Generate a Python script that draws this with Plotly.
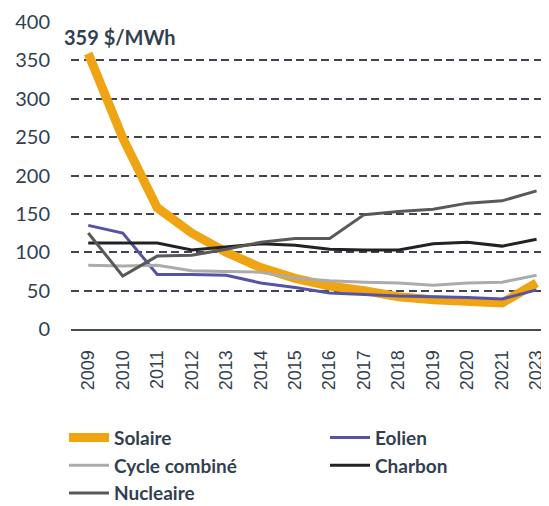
import plotly.graph_objects as go

years = ["2009", "2010", "2011", "2012", "2013", "2014", "2015", "2016",
         "2017", "2018", "2019", "2020", "2021", "2023"]
solaire = [359, 249, 158, 125, 100, 80, 66, 56, 50, 42, 38, 36, 34, 60]
eolien = [135, 125, 71, 71, 70, 60, 54, 47, 45, 43, 42, 41, 39, 51]
cycle_combine = [83, 82, 83, 76, 75, 74, 66, 63, 61, 60, 57, 60, 61, 70]
charbon = [112, 112, 112, 103, 107, 111, 109, 104, 103, 103, 111, 113, 108, 117]
nucleaire = [125, 69, 95, 96, 104, 113, 118, 118, 149, 153, 156, 164, 167, 180]
y_ticks = [0, 50, 100, 150, 200, 250, 300, 350, 400]

TEXT = "#333F50"
fig = go.Figure()
series = [
    ("Solaire", solaire, "#EFA414", 9),
    ("Eolien", eolien, "#5753A4", 3),
    ("Cycle combiné", cycle_combine, "#ABABAB", 3),
    ("Charbon", charbon, "#222222", 3),
    ("Nucleaire", nucleaire, "#595959", 3),
]
for name, vals, col, w in series:
    fig.add_trace(go.Scatter(x=years, y=vals, name=name, mode="lines",
                             line=dict(color=col, width=w)))

fig.add_annotation(x=0, y=380, xref="x", yref="y", text="<b>359 $/MWh</b>",
                   showarrow=False, xanchor="left", xshift=-26,
                   font=dict(family="Lato, Open Sans, sans-serif", size=20, color=TEXT))

# page body keeps an 8px margin, so the figure is 8px smaller on each axis
fig.update_layout(
    width=541, height=498,
    margin=dict(l=63, r=0, t=14, b=177, autoexpand=False),
    plot_bgcolor="white", paper_bgcolor="white",
    showlegend=True,
    legend=dict(orientation="h", xref="paper", yref="paper",
                x=-0.0146, y=-0.292, xanchor="left", yanchor="top",
                entrywidth=206, entrywidthmode="pixels",
                font=dict(family="Lato, Open Sans, sans-serif", size=19, color=TEXT,
                          weight="bold"),
                itemwidth=40),
    xaxis=dict(type="category", range=[-0.5, 13.36], tickangle=-90, automargin=False,
               showgrid=False, showline=True, linecolor="#444C5C", linewidth=2,
               ticks="", ticklabelstandoff=12,
               tickfont=dict(family="Liberation Sans, Arial, sans-serif", size=18, color=TEXT)),
    yaxis=dict(range=[0, 400], tickvals=y_ticks, showgrid=True, automargin=False,
               gridcolor="#3D4452", gridwidth=2, griddash="8px,4.5px",
               zeroline=False, showline=False, ticks="", ticklabelstandoff=20,
               tickfont=dict(family="Lato, Open Sans, sans-serif", size=20, color=TEXT)),
)
fig.write_html("out.html")
